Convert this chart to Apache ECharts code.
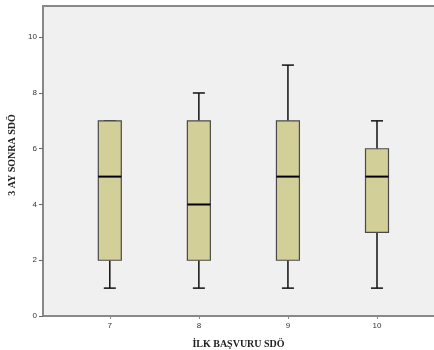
<!DOCTYPE html>
<html><head><meta charset="utf-8">
<script src="https://cdn.jsdelivr.net/npm/echarts@6/dist/echarts.min.js"></script>
<style>html,body{margin:0;padding:0;background:#fff}#c{width:434px;height:350px}</style>
</head><body><div id="c"></div>
<script>
var categories = [7, 8, 9, 10];
var mins    = [1, 1, 1, 1];
var q1s     = [2, 2, 2, 3];
var medians = [5, 4, 5, 5];
var q3s     = [7, 7, 7, 6];
var maxs    = [7, 8, 9, 7];
var yTicks = [0, 2, 4, 6, 8, 10];

var data = categories.map(function (c, i) {
  return [c, mins[i], q1s[i], medians[i], q3s[i], maxs[i]];
});

var chart = echarts.init(document.getElementById('c'));
chart.setOption({
  animation: false,
  grid: { left: 43, right: 0, top: 6, bottom: 34, show: true, backgroundColor: '#f0f0f0', borderWidth: 0,
          outerBoundsMode: 'none', containLabel: false },
  xAxis: [{
    type: 'value', min: 6.25, max: 10.64, position: 'bottom',
    name: 'İLK BAŞVURU SDÖ', nameLocation: 'middle', nameGap: 23,
    nameTextStyle: { fontFamily: 'Liberation Serif', fontWeight: 'bold', fontSize: 10, color: '#222' },
    axisLine: { lineStyle: { color: '#888', width: 2 } },
    axisTick: { show: true, customValues: categories, length: 3, lineStyle: { color: '#888' } },
    axisLabel: { customValues: categories, fontFamily: 'Liberation Sans', fontSize: 8, color: '#333', margin: 6 },
    splitLine: { show: false }
  }, {
    type: 'value', min: 6.25, max: 10.64, position: 'top',
    axisLine: { show: true, lineStyle: { color: '#888', width: 2 } },
    axisTick: { show: false }, axisLabel: { show: false }, splitLine: { show: false }
  }],
  yAxis: {
    type: 'value', min: 0, max: 11.12,
    name: '3 AY SONRA SDÖ', nameLocation: 'middle', nameGap: 20,
    nameTextStyle: { fontFamily: 'Liberation Serif', fontWeight: 'bold', fontSize: 10, color: '#222',
                     padding: [0, 0, 0, 12] },
    axisLine: { show: true, lineStyle: { color: '#888', width: 2 } },
    axisTick: { show: true, customValues: yTicks, length: 4, lineStyle: { color: '#666' } },
    axisLabel: { customValues: yTicks, fontFamily: 'Liberation Sans', fontSize: 8, color: '#333', margin: 6 },
    splitLine: { show: false }
  },
  series: [{
    type: 'custom',
    data: data,
    renderItem: function (params, api) {
      var x = api.value(0);
      var pMin = api.coord([x, api.value(1)]);
      var pQ1 = api.coord([x, api.value(2)]);
      var pMed = api.coord([x, api.value(3)]);
      var pQ3 = api.coord([x, api.value(4)]);
      var pMax = api.coord([x, api.value(5)]);
      var bw = api.size([0.258, 0])[0];
      var cw = api.size([0.135, 0])[0];
      var cx = pMed[0];
      var blk = { stroke: '#111', lineWidth: 1.5 };
      return {
        type: 'group',
        children: [
          { type: 'line', shape: { x1: cx, y1: pMin[1], x2: cx, y2: pQ1[1] }, style: blk },
          { type: 'line', shape: { x1: cx, y1: pQ3[1], x2: cx, y2: pMax[1] }, style: blk },
          { type: 'line', shape: { x1: cx - cw / 2, y1: pMin[1], x2: cx + cw / 2, y2: pMin[1] }, style: blk },
          { type: 'line', shape: { x1: cx - cw / 2, y1: pMax[1], x2: cx + cw / 2, y2: pMax[1] }, style: blk },
          { type: 'rect', shape: { x: cx - bw / 2, y: pQ3[1], width: bw, height: pQ1[1] - pQ3[1] },
            style: { fill: '#d3cf98', stroke: '#4a4a4a', lineWidth: 1.2 } },
          { type: 'line', shape: { x1: cx - bw / 2, y1: pMed[1], x2: cx + bw / 2, y2: pMed[1] },
            style: { stroke: '#000', lineWidth: 2 } }
        ]
      };
    }
  }]
});
</script></body></html>
